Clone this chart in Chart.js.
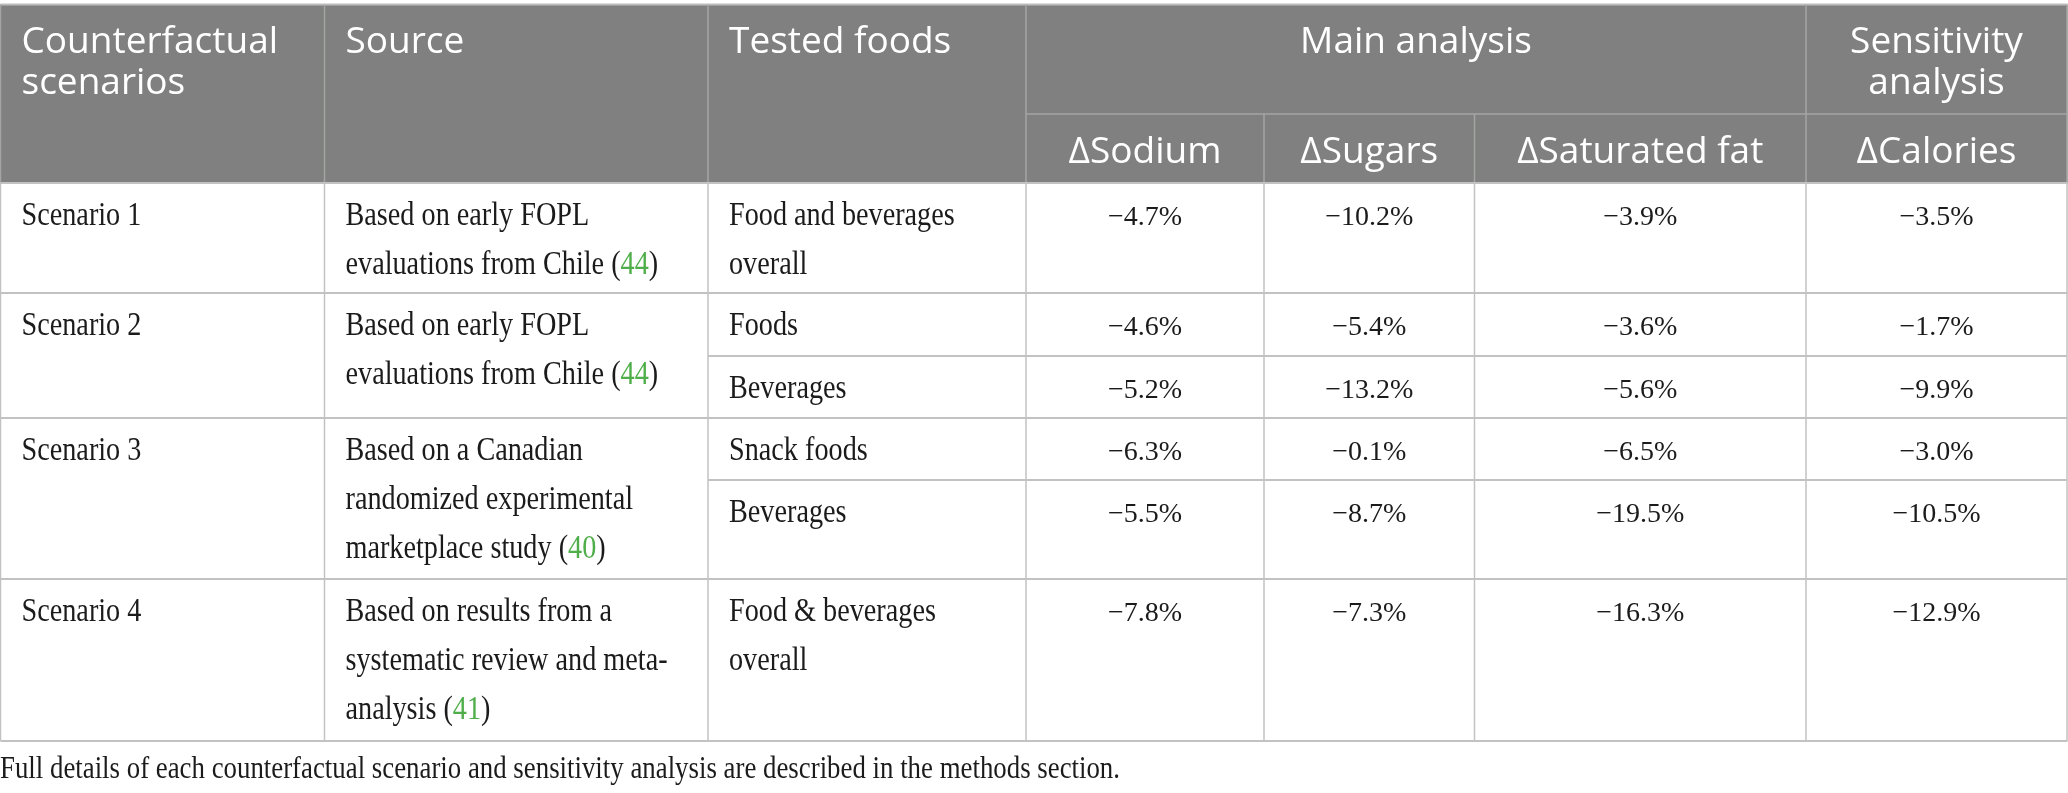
<!DOCTYPE html>
<html><head><meta charset="utf-8">
<script src="https://cdn.jsdelivr.net/npm/chart.js@4.4.0/dist/chart.umd.min.js"></script>
<style>
html,body{margin:0;padding:0;background:#fff;overflow:hidden}
#wrap{width:2068px;height:793px;position:relative}
canvas{display:block}
</style>
</head><body>
<div id="wrap"><canvas id="c" width="2068" height="793"></canvas></div>
<script>
// ---------------- DATA ----------------
const headerGroups = ['Main analysis', 'Sensitivity analysis'];
const headerCols = ['Counterfactual scenarios', 'Source', 'Tested foods'];
const nutrientLabels = ['\u0394Sodium', '\u0394Sugars', '\u0394Saturated fat', '\u0394Calories'];
const scenarios = ['Scenario 1', 'Scenario 2', 'Scenario 3', 'Scenario 4'];
const sources = [
  ['Based on early FOPL', 'evaluations from Chile ({44})'],
  ['Based on early FOPL', 'evaluations from Chile ({44})'],
  ['Based on a Canadian', 'randomized experimental', 'marketplace study ({40})'],
  ['Based on results from a', 'systematic review and meta-', 'analysis ({41})']
];
// tested foods per sub-row, with the scenario index each belongs to
const testedFoods = [['Food and beverages', 'overall'], ['Foods'], ['Beverages'], ['Snack foods'], ['Beverages'], ['Food & beverages', 'overall']];
const testedScenario = [0, 1, 1, 2, 2, 3];
const sodium    = [-4.7, -4.6, -5.2, -6.3, -5.5, -7.8];
const sugars    = [-10.2, -5.4, -13.2, -0.1, -8.7, -7.3];
const satFat    = [-3.9, -3.6, -5.6, -6.5, -19.5, -16.3];
const calories  = [-3.5, -1.7, -9.9, -3.0, -10.5, -12.9];
const footnote = 'Full details of each counterfactual scenario and sensitivity analysis are described in the methods section.';

// ---------------- LAYOUT (scale units) ----------------
const colEdges = [0.5, 324.5, 708, 1026, 1264, 1474.5, 1806, 2067];
const headTop = 4.5, headMid = 114, headBot = 183;
const scenEdges = [183, 293, 418, 579, 741];
const subEdges = [183, 293, 356, 418, 480, 579, 741];
const padX = 21, firstBase = 41.5, lineGap = 49;
const footBase = 778;

const HEAD_FONT = '37px "Open Sans"';
const BODY_FONT = '34px "Liberation Serif"';
const NUM_FONT = '28px "Liberation Serif"';
const FOOT_FONT = '31px "Liberation Serif"';
const BODY_SX = 0.83;
const GREEN = '#4fae4a';
const INK = '#1b1b1b';

function fmt(v) { return (v < 0 ? '\u2212' : '') + Math.abs(v).toFixed(1) + '%'; }

const nutrientSeries = [sodium, sugars, satFat, calories];
const datasets = nutrientSeries.map((arr, k) => ({
  label: nutrientLabels[k],
  data: arr.map((v, i) => ({ x: (colEdges[3 + k] + colEdges[4 + k]) / 2, y: subEdges[i] + firstBase, v: v })),
  pointRadius: 0, pointHoverRadius: 0, showLine: false
}));

function segs(str) {
  const out = []; const re = /\{(\d+)\}/g; let last = 0, m;
  while ((m = re.exec(str))) {
    if (m.index > last) out.push([str.slice(last, m.index), false]);
    out.push([m[1], true]); last = re.lastIndex;
  }
  if (last < str.length) out.push([str.slice(last), false]);
  return out;
}
function drawText(ctx, str, x, y, font, align, sx, color) {
  ctx.save();
  ctx.font = font; ctx.textBaseline = 'alphabetic'; ctx.textAlign = 'left';
  const parts = segs(str);
  let total = 0; parts.forEach(p => total += ctx.measureText(p[0]).width);
  ctx.translate(x, y); ctx.scale(sx, 1);
  let cx = align === 'center' ? -total / 2 : (align === 'right' ? -total : 0);
  parts.forEach(p => {
    ctx.fillStyle = p[1] ? GREEN : color;
    ctx.fillText(p[0], cx, 0);
    cx += ctx.measureText(p[0]).width;
  });
  ctx.restore();
}

const tablePlugin = {
  id: 'tablePlugin',
  beforeDatasetsDraw(chart) {
    const ctx = chart.ctx, xs = chart.scales.x, ys = chart.scales.y;
    const X = v => xs.getPixelForValue(v), Y = v => ys.getPixelForValue(v);
    // header background
    ctx.fillStyle = '#7f807f';
    ctx.fillRect(X(0), Y(headTop), X(2067.5) - X(0), Y(headBot) - Y(headTop));
    function line(x1, y1, x2, y2, c, w) {
      ctx.save(); ctx.strokeStyle = c; ctx.lineWidth = w;
      ctx.beginPath(); ctx.moveTo(X(x1), Y(y1)); ctx.lineTo(X(x2), Y(y2)); ctx.stroke(); ctx.restore();
    }
    // header lines
    const hc = '#a3a5a3';
    line(colEdges[0], headTop, colEdges[7] + 0.5, headTop, '#bdbdbd', 2);
    [1, 2, 3, 6].forEach(i => line(colEdges[i], headTop, colEdges[i], headBot, hc, 1.5));
    [4, 5].forEach(i => line(colEdges[i], headMid, colEdges[i], headBot, hc, 1.5));
    line(colEdges[3], headMid, colEdges[7], headMid, hc, 1.5);
    line(colEdges[0], headTop, colEdges[0], headBot, hc, 1.5);
    line(colEdges[7], headTop, colEdges[7], headBot, hc, 1.5);
    // body lines
    const bc = '#c2c2c2';
    colEdges.forEach(x => line(x, headBot, x, scenEdges[4], bc, 1.5));
    scenEdges.forEach(y => line(colEdges[0], y, colEdges[7] + 0.5, y, bc, 2));
    [subEdges[2], subEdges[4]].forEach(y => line(colEdges[2], y, colEdges[7], y, bc, 2));

    // header text
    const hw = '#ffffff';
    const hc0 = headerCols[0].split(' ');
    drawText(ctx, hc0[0], X(colEdges[0] + padX), Y(53), HEAD_FONT, 'left', 1, hw);
    drawText(ctx, hc0[1], X(colEdges[0] + padX), Y(94), HEAD_FONT, 'left', 1, hw);
    drawText(ctx, headerCols[1], X(colEdges[1] + padX), Y(53), HEAD_FONT, 'left', 1, hw);
    drawText(ctx, headerCols[2], X(colEdges[2] + padX), Y(53), HEAD_FONT, 'left', 1, hw);
    drawText(ctx, headerGroups[0], X((colEdges[3] + colEdges[6]) / 2), Y(53), HEAD_FONT, 'center', 1, hw);
    const sens = headerGroups[1].split(' ');
    drawText(ctx, sens[0], X((colEdges[6] + colEdges[7]) / 2), Y(53), HEAD_FONT, 'center', 1, hw);
    drawText(ctx, sens[1], X((colEdges[6] + colEdges[7]) / 2), Y(94), HEAD_FONT, 'center', 1, hw);
    nutrientLabels.forEach((t, k) => drawText(ctx, t, X((colEdges[3 + k] + colEdges[4 + k]) / 2), Y(163), HEAD_FONT, 'center', 1, hw));

    // scenario + source text
    scenarios.forEach((s, i) => {
      const top = scenEdges[i];
      drawText(ctx, s, X(colEdges[0] + padX), Y(top + firstBase), BODY_FONT, 'left', BODY_SX, INK);
      sources[i].forEach((ln, j) => drawText(ctx, ln, X(colEdges[1] + padX), Y(top + firstBase + j * lineGap), BODY_FONT, 'left', BODY_SX, INK));
    });
    // tested foods
    testedFoods.forEach((lines, i) => {
      const top = subEdges[i];
      lines.forEach((ln, j) => drawText(ctx, ln, X(colEdges[2] + padX), Y(top + firstBase + j * lineGap), BODY_FONT, 'left', BODY_SX, INK));
    });
    // footnote
    ctx.save(); ctx.font = FOOT_FONT;
    const fw = ctx.measureText(footnote).width; ctx.restore();
    drawText(ctx, footnote, X(0), Y(footBase), FOOT_FONT, 'left', (X(1120) - X(0)) / fw, INK);
  },
  afterDatasetsDraw(chart) {
    const ctx = chart.ctx;
    chart.data.datasets.forEach((ds, k) => {
      const meta = chart.getDatasetMeta(k);
      meta.data.forEach((pt, i) => {
        drawText(ctx, fmt(ds.data[i].v), pt.x, pt.y, NUM_FONT, 'center', 1, INK);
      });
    });
  }
};

function build() {
  new Chart(document.getElementById('c'), {
    type: 'scatter',
    data: { datasets },
    options: {
      responsive: false, animation: false, devicePixelRatio: 1,
      layout: { padding: 0 },
      plugins: { legend: { display: false }, tooltip: { enabled: false } },
      events: [],
      scales: {
        x: { type: 'linear', min: 0, max: 2068, display: false },
        y: { type: 'linear', min: 0, max: 793, reverse: true, display: false }
      }
    },
    plugins: [tablePlugin]
  });
}
const loads = [HEAD_FONT, BODY_FONT, NUM_FONT, FOOT_FONT].map(f => document.fonts ? document.fonts.load(f, 'AΔa') : Promise.resolve());
Promise.all(loads).then(build, build);
</script>
</body></html>
